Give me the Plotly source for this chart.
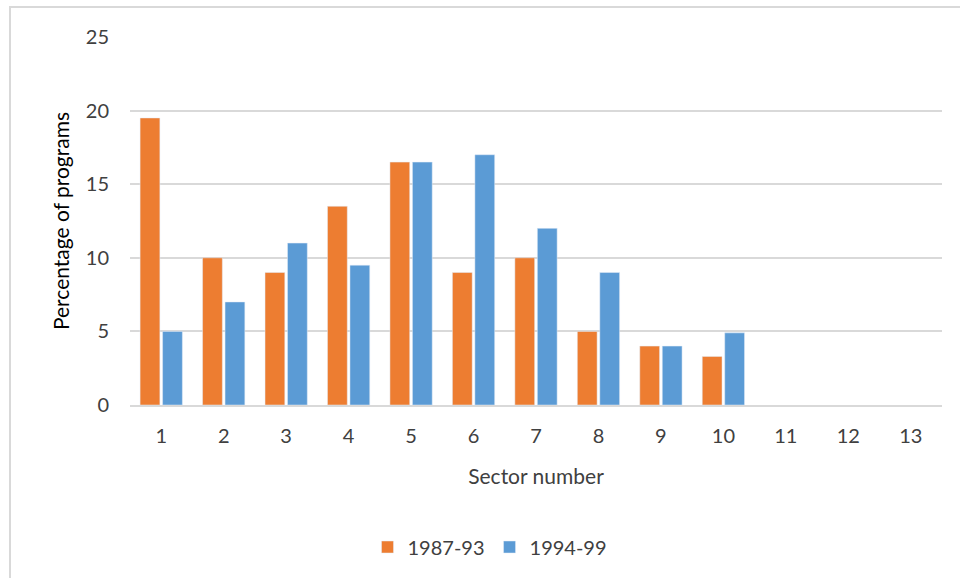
import plotly.graph_objects as go

sectors = [str(i) for i in range(1, 14)]
share_1987_93 = [19.5, 10, 9, 13.5, 16.5, 9, 10, 5, 4, 3.3, None, None, None]
share_1994_99 = [5, 7, 11, 9.5, 16.5, 17, 12, 9, 4, 4.9, None, None, None]

W, H = 960, 578
L, R, T, B = 130, 18, 37, 173
pw, ph = W - L - R, H - T - B

def px_x(x):
    return (x - L) / pw

def px_y(y):
    return (H - B - y) / ph

font = "Lato, Open Sans, sans-serif"
grey = "#404040"

fig = go.Figure()
fig.add_trace(go.Bar(x=sectors, y=share_1987_93, name="1987-93", marker_color="#ED7D31"))
fig.add_trace(go.Bar(x=sectors, y=share_1994_99, name="1994-99", marker_color="#5B9BD5"))

fig.update_layout(
    width=W, height=H,
    margin=dict(l=L, r=R, t=T, b=B),
    paper_bgcolor="white", plot_bgcolor="white",
    barmode="group", bargap=0.28, bargroupgap=0.12,
    font=dict(family=font, color=grey, size=19),
    xaxis=dict(
        type="category", showgrid=False, showline=True, linecolor="#d9d9d9", linewidth=2,
        tickfont=dict(size=20, color=grey), ticks="",
        ticklabelstandoff=12,
        title=dict(text="Sector number", font=dict(size=21, color=grey), standoff=23),
    ),
    yaxis=dict(
        range=[0, 25], dtick=5, showgrid=True, gridcolor="#d9d9d9", gridwidth=2,
        zeroline=False, showline=False, ticks="",
        tickfont=dict(size=20, color=grey), ticklabelstandoff=20,
        title=dict(text="Percentage of programs", font=dict(size=21, color="#000000"), standoff=10),
    ),
    legend=dict(
        orientation="h", x=px_x(490), xanchor="center", y=px_y(547), yanchor="middle",
        font=dict(size=20, color=grey), traceorder="normal", itemwidth=30,
    ),
    showlegend=True,
    shapes=[dict(
        type="rect", xref="paper", yref="paper",
        x0=px_x(10), x1=px_x(W + 20), y0=px_y(H + 20), y1=px_y(7),
        line=dict(color="#d9d9d9", width=2), fillcolor="rgba(0,0,0,0)", layer="below",
    )],
)

fig.write_html("out.html")
